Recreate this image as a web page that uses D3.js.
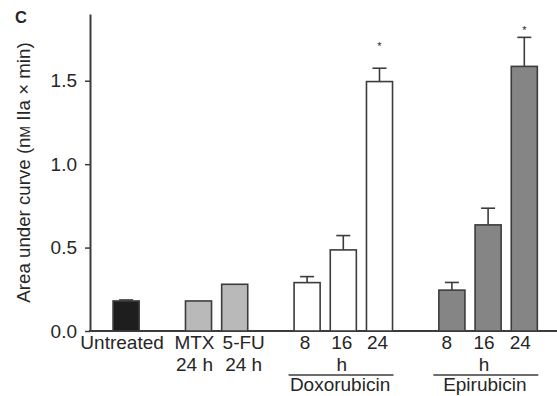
<!DOCTYPE html>
<html>
<head>
<meta charset="utf-8">
<script src="https://cdn.jsdelivr.net/npm/d3@7"></script>
<style>
  html, body { margin: 0; padding: 0; background: #fff; }
  svg { display: block; font-family: "Liberation Sans", Arial, Helvetica, sans-serif; }
</style>
</head>
<body>
<svg id="chart" width="557" height="396"></svg>
<script>
// Treatment conditions, in plotting order
const categories = ["Untreated", "MTX 24 h", "5-FU 24 h",
  "Doxorubicin 8 h", "Doxorubicin 16 h", "Doxorubicin 24 h",
  "Epirubicin 8 h", "Epirubicin 16 h", "Epirubicin 24 h"];
// Area under thrombin generation curve (nM IIa x min), mean and error
const values = [0.18, 0.18, 0.28, 0.29, 0.486, 1.495, 0.245, 0.636, 1.586];
const errors = [0.006, 0, 0, 0.036, 0.086, 0.08, 0.046, 0.1, 0.174];
// Significance marks: level at which the asterisk sits (null = none)
const significance = [null, null, null, null, null, 1.72, null, null, 1.815];
const drugClass = ["control", "antimetabolite", "antimetabolite",
  "doxorubicin", "doxorubicin", "doxorubicin",
  "epirubicin", "epirubicin", "epirubicin"];
// Two-line category labels
const labelLine1 = ["Untreated", "MTX", "5-FU", "8", "16", "24", "8", "16", "24"];
const labelLine2 = ["", "24 h", "24 h", "", "h", "", "", "h", ""];
// Slot order along the x axis; blank slots separate the groups
const slotOrder = ["Untreated", "gap-1", "MTX 24 h", "5-FU 24 h", "gap-2",
  "Doxorubicin 8 h", "Doxorubicin 16 h", "Doxorubicin 24 h", "gap-3",
  "Epirubicin 8 h", "Epirubicin 16 h", "Epirubicin 24 h"];
// Bracketed drug groups
const groupNames = ["Doxorubicin", "Epirubicin"];
const groupMembers = [
  ["Doxorubicin 8 h", "Doxorubicin 16 h", "Doxorubicin 24 h"],
  ["Epirubicin 8 h", "Epirubicin 16 h", "Epirubicin 24 h"]
];
const yTicks = [0, 0.5, 1.0, 1.5];

const fills = {
  control: "#1e1e1e",
  antimetabolite: "#b9b9b9",
  doxorubicin: "#ffffff",
  epirubicin: "#858585"
};
// Horizontal nudges for the category labels (px), keeping MTX / 5-FU apart
const labelNudge = {
  "Untreated": -4, "MTX 24 h": -4, "5-FU 24 h": 9,
  "Doxorubicin 8 h": -2, "Doxorubicin 16 h": -1.5, "Doxorubicin 24 h": -2,
  "Epirubicin 8 h": -5, "Epirubicin 16 h": -4, "Epirubicin 24 h": -4
};
const ink = "#262626";
const lineColor = "#3c3c3c";
const fontSize = 19;

const svg = d3.select("#chart");
const axisX = 90, baseY = 331, topY = 14;

const y = d3.scaleLinear().domain([0, 1.9]).range([baseY, topY]);
const x = d3.scaleBand().domain(slotOrder).range([108, 542.4])
  .paddingInner(0.28).paddingOuter(0.14);

// Panel letter
svg.append("text").attr("x", 15).attr("y", 22.5)
  .attr("font-size", 16.5).attr("font-weight", "bold").attr("fill", ink)
  .text("C");

// Y axis
const yAxis = svg.append("g").attr("transform", `translate(${axisX},0)`)
  .call(d3.axisLeft(y).tickValues(yTicks).tickFormat(d3.format(".1f"))
    .tickSize(5).tickSizeOuter(0).tickPadding(8));
yAxis.select(".domain").attr("stroke", lineColor).attr("stroke-width", 2);
yAxis.selectAll(".tick line").attr("stroke", lineColor).attr("stroke-width", 1.5);
yAxis.selectAll(".tick text").attr("font-size", fontSize).attr("fill", ink)
  .attr("font-family", "Liberation Sans, Arial, sans-serif");

// Y axis title, "nM" set in small capitals
const yTitle = svg.append("text")
  .attr("transform", `translate(30,${(42 + 303) / 2}) rotate(-90)`)
  .attr("text-anchor", "middle").attr("font-size", 18.7).attr("fill", ink);
yTitle.append("tspan").text("Area under curve (n");
yTitle.append("tspan").attr("font-size", 13.8).text("M");
yTitle.append("tspan").text(" IIa \u00d7 min)");

// X axis baseline
svg.append("line").attr("x1", axisX - 1).attr("x2", 557)
  .attr("y1", baseY).attr("y2", baseY)
  .attr("stroke", lineColor).attr("stroke-width", 2);

const bars = categories.map((c, i) => ({
  c, v: values[i], e: errors[i], sig: significance[i], cls: drugClass[i],
  l1: labelLine1[i], l2: labelLine2[i]
}));

// Error bars (upper whisker only), drawn behind bars
const cap = 14;
const eb = svg.append("g").attr("stroke", lineColor).attr("stroke-width", 1.6);
bars.filter(d => d.e > 0).forEach(d => {
  const cx = x(d.c) + x.bandwidth() / 2;
  eb.append("line").attr("x1", cx).attr("x2", cx)
    .attr("y1", y(d.v)).attr("y2", y(d.v + d.e));
  eb.append("line").attr("x1", cx - cap / 2).attr("x2", cx + cap / 2)
    .attr("y1", y(d.v + d.e)).attr("y2", y(d.v + d.e));
});

// Bars
svg.append("g").selectAll("rect").data(bars).join("rect")
  .attr("x", d => x(d.c))
  .attr("y", d => y(d.v))
  .attr("width", x.bandwidth())
  .attr("height", d => baseY - y(d.v))
  .attr("fill", d => fills[d.cls])
  .attr("stroke", lineColor).attr("stroke-width", 1.6);

// Significance markers
svg.append("g").selectAll("text").data(bars.filter(d => d.sig != null)).join("text")
  .attr("x", d => x(d.c) + x.bandwidth() / 2)
  .attr("y", d => y(d.sig) + 6)
  .attr("text-anchor", "middle").attr("font-size", 11).attr("fill", ink)
  .text("*");

// Category labels
const lab = svg.append("g").attr("font-size", fontSize).attr("fill", ink)
  .attr("text-anchor", "middle");
bars.forEach(d => {
  const cx = x(d.c) + x.bandwidth() / 2 + labelNudge[d.c];
  lab.append("text").attr("x", cx).attr("y", 349).text(d.l1);
  if (d.l2) lab.append("text").attr("x", cx).attr("y", 370.5).text(d.l2);
});

// Group brackets and names
groupNames.forEach((name, gi) => {
  const mem = groupMembers[gi];
  const x0 = x(mem[0]) - 5.5;
  const x1 = x(mem[mem.length - 1]) + x.bandwidth() + 1;
  svg.append("line").attr("x1", x0).attr("x2", x1)
    .attr("y1", 375).attr("y2", 375)
    .attr("stroke", lineColor).attr("stroke-width", 1.6);
  svg.append("text").attr("x", (x0 + x1) / 2 - 1).attr("y", 391)
    .attr("text-anchor", "middle").attr("font-size", fontSize).attr("fill", ink)
    .text(name);
});
</script>
</body>
</html>
